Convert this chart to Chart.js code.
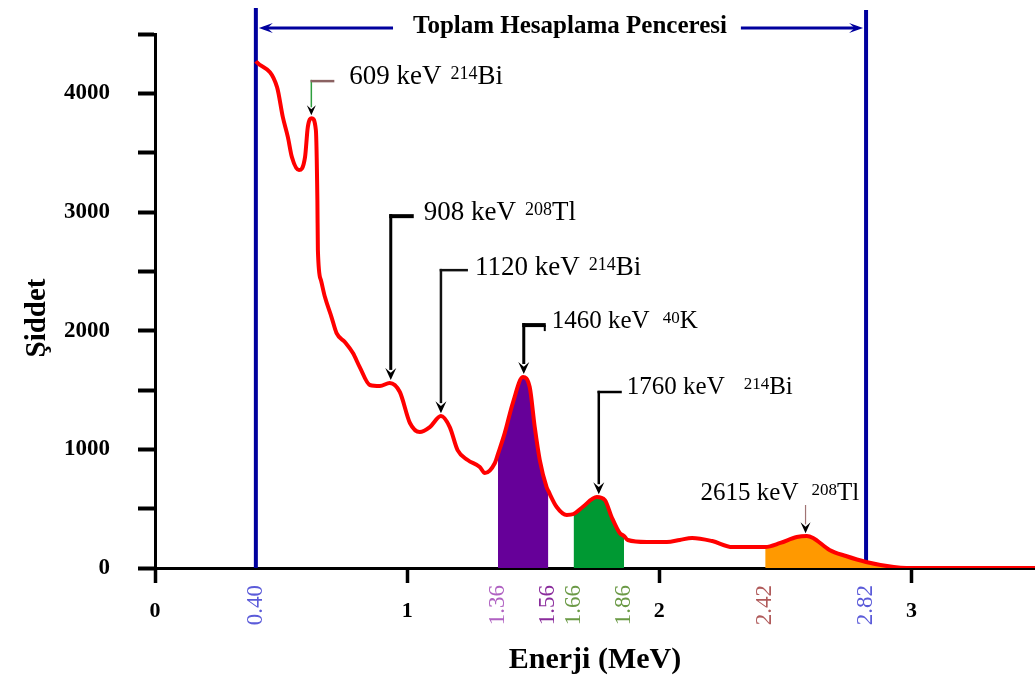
<!DOCTYPE html>
<html>
<head>
<meta charset="utf-8">
<script src="https://cdn.jsdelivr.net/npm/chart.js@4.4.1/dist/chart.umd.min.js"></script>
<style>
  html, body { margin: 0; padding: 0; background: #ffffff; }
  #wrap { width: 1035px; height: 681px; }
</style>
</head>
<body>
<div id="wrap"><canvas id="spectrum" width="1035" height="681"></canvas></div>
<script>
// Gamma spectrum: energy (MeV) and intensity (counts)
const energy = [0.40, 0.484, 0.507, 0.527, 0.543, 0.571, 0.595, 0.606, 0.622, 0.638,
  0.644, 0.646, 0.658, 0.674, 0.70, 0.72, 0.753, 0.785, 0.812, 0.852,
  0.892, 0.931, 0.971, 1.011, 1.05, 1.09, 1.134, 1.169, 1.20, 1.24,
  1.288, 1.308, 1.348, 1.36, 1.387, 1.419, 1.459, 1.486, 1.506, 1.526,
  1.553, 1.56, 1.593, 1.633, 1.66, 1.696, 1.752, 1.784, 1.811, 1.843,
  1.86, 1.875, 1.95, 2.03, 2.081, 2.13, 2.21, 2.29, 2.42, 2.48,
  2.545, 2.585, 2.61, 2.675, 2.74, 2.82, 2.93, 2.98, 3.49];
const counts = [4270, 4052, 3799, 3631, 3462, 3353, 3462, 3715, 3791, 3690,
  3100, 2679, 2426, 2283, 2115, 1980, 1904, 1811, 1693, 1542,
  1533, 1559, 1483, 1222, 1146, 1188, 1281, 1188, 994, 910,
  851, 800, 885, 960, 1137, 1390, 1609, 1525, 1188, 910,
  682, 649, 514, 447, 455, 514, 598, 573, 430, 295,
  270, 236, 219, 219, 236, 253, 227, 177, 177, 211,
  261, 270, 253, 152, 101, 51, 8, 0, 0];

// Axis ticks
const xTicks = [0, 1, 2, 3];
const yTicks = [0, 500, 1000, 1500, 2000, 2500, 3000, 3500, 4000, 4500];
const yTickText = ['0', '', '1000', '', '2000', '', '3000', '', '4000', ''];

// Window boundaries written under the axis, and the total window edges
const windowTicks = ['0.40', '1.36', '1.56', '1.66', '1.86', '2.42', '2.82'];
const totalWindow = [0.40, 2.82];

// Shaded energy bands under the spectrum
const bandLo = [1.36, 1.66, 2.42];
const bandHi = [1.56, 1.86, 2.98];

// Peak annotations
const peakMain = ['609 keV', '908 keV', '1120 keV', '1460 keV', '1760 keV', '2615 keV'];
const peakSup = ['214', '208', '214', '40', '214', '208'];
const peakElem = ['Bi', 'Tl', 'Bi', 'K', 'Bi', 'Tl'];
const peakX = [0.62, 0.935, 1.134, 1.4625, 1.76, 2.58];
const peakTip = [3815, 1585, 1305, 1635, 622, 292];
const peakElbow = [4103, 2965, 2510, 2047, 1483, 531];

const SERIF = '"Liberation Serif", "Times New Roman", serif';
const NAVY = '#00009e';
const bandColors = ['#660099', '#009933', '#ff9900'];
const windowTickColors = ['#5b5bd9', '#b062c2', '#8a2c9c', '#6b9a46', '#6b9a46', '#b05a5a', '#5b5bd9'];

// drawing style of each peak annotation (pixel offsets, fonts, strokes)
const annStyle = [
  { elbowLen: 23, dx: 15, dy: -6, size: 27, gap: 9, vColor: '#2e9e3e', vWidth: 1.5, hColor: '#8b6262', hWidth: 2.5, head: [9, 10] },
  { elbowLen: 23, dx: 10, dy: -5, size: 27, gap: 9, vColor: '#000', vWidth: 3, hColor: '#000', hWidth: 4, head: [11, 12] },
  { elbowLen: 27, dx: 7, dy: -4, size: 27, gap: 9, vColor: '#111', vWidth: 2.5, hColor: '#111', hWidth: 2.5, head: [11, 12] },
  { elbowLen: 22, dx: 6, dy: -5, size: 25, gap: 13, vColor: '#000', vWidth: 3, hColor: '#000', hWidth: 4, head: [11, 12], hook: 6 },
  { elbowLen: 23, dx: 5, dy: -6, size: 25, gap: 19, vColor: '#000', vWidth: 2.5, hColor: '#000', hWidth: 2.5, head: [11, 12] },
  { elbowLen: 0, dx: -105, dy: -13, size: 25, gap: 13, vColor: '#a07474', vWidth: 1.2, hColor: '#a07474', hWidth: 1, head: [10, 11] }
];

const spectrum = energy.map((e, i) => ({ x: e, y: counts[i] }));

const bandSets = bandLo.map((lo, k) => ({
  data: spectrum.filter(p => p.x >= lo && p.x <= bandHi[k]),
  fill: 'origin',
  backgroundColor: bandColors[k],
  borderWidth: 0,
  pointRadius: 0,
  cubicInterpolationMode: 'monotone',
  order: 2
}));

function drawRich(ctx, x, yMid, main, sup, elem, size, gap) {
  const base = yMid + size * 0.33;
  ctx.textAlign = 'left';
  ctx.textBaseline = 'alphabetic';
  ctx.fillStyle = '#000';
  ctx.font = `${size}px ${SERIF}`;
  ctx.fillText(main, x, base);
  let cx = x + ctx.measureText(main).width + gap;
  const ss = Math.round(size * 0.66);
  ctx.font = `${ss}px ${SERIF}`;
  ctx.fillText(sup, cx, base - size * 0.2);
  cx += ctx.measureText(sup).width;
  ctx.font = `${size}px ${SERIF}`;
  ctx.fillText(elem, cx, base);
}

function arrowHead(ctx, x, tipY, w, h, dir) {
  ctx.beginPath();
  if (dir === 'down') {
    ctx.moveTo(x, tipY);
    ctx.lineTo(x - w / 2, tipY - h);
    ctx.lineTo(x, tipY - h * 0.6);
    ctx.lineTo(x + w / 2, tipY - h);
  } else if (dir === 'left') {
    ctx.moveTo(x, tipY);
    ctx.lineTo(x + h, tipY - w / 2);
    ctx.lineTo(x + h * 0.6, tipY);
    ctx.lineTo(x + h, tipY + w / 2);
  } else {
    ctx.moveTo(x, tipY);
    ctx.lineTo(x - h, tipY - w / 2);
    ctx.lineTo(x - h * 0.6, tipY);
    ctx.lineTo(x - h, tipY + w / 2);
  }
  ctx.closePath();
  ctx.fill();
}

const decorations = {
  id: 'decorations',
  beforeDatasetsDraw(chart) {
    const { ctx, scales: { x, y } } = chart;
    ctx.save();
    // total window edges
    ctx.strokeStyle = NAVY;
    ctx.lineWidth = 4;
    totalWindow.forEach((v, i) => {
      const px = x.getPixelForValue(v);
      ctx.beginPath();
      ctx.moveTo(px, i === 0 ? 8 : 10);
      ctx.lineTo(px, y.getPixelForValue(0));
      ctx.stroke();
    });
    // window caption with arrows
    const l = x.getPixelForValue(totalWindow[0]);
    const r = x.getPixelForValue(totalWindow[1]);
    const cap = 'Toplam Hesaplama Penceresi';
    ctx.font = `bold 25px ${SERIF}`;
    const tw = ctx.measureText(cap).width;
    const cx = (l + r) / 2 + 9;
    const cy = 27;
    ctx.fillStyle = '#000';
    ctx.textAlign = 'center';
    ctx.textBaseline = 'middle';
    ctx.fillText(cap, cx, cy);
    ctx.strokeStyle = NAVY;
    ctx.fillStyle = NAVY;
    ctx.lineWidth = 3;
    ctx.beginPath();
    ctx.moveTo(l + 8, cy + 1);
    ctx.lineTo(cx - tw / 2 - 20, cy + 1);
    ctx.moveTo(cx + tw / 2 + 14, cy + 1);
    ctx.lineTo(r - 8, cy + 1);
    ctx.stroke();
    arrowHead(ctx, l + 3, cy + 1, 10, 14, 'left');
    arrowHead(ctx, r - 3, cy + 1, 10, 14, 'right');
    ctx.restore();
  },
  afterDatasetsDraw(chart) {
    const { ctx, scales: { x, y } } = chart;
    ctx.save();
    peakX.forEach((v, i) => {
      const s = annStyle[i];
      const px = x.getPixelForValue(v);
      const tip = y.getPixelForValue(peakTip[i]);
      const ey = y.getPixelForValue(peakElbow[i]);
      ctx.lineCap = 'butt';
      // vertical stem
      ctx.strokeStyle = s.vColor;
      ctx.lineWidth = s.vWidth;
      ctx.beginPath();
      ctx.moveTo(px, ey - (s.elbowLen ? s.hWidth / 2 : 0));
      ctx.lineTo(px, tip - s.head[1] + 2);
      ctx.stroke();
      // elbow
      if (s.elbowLen) {
        ctx.strokeStyle = s.hColor;
        ctx.lineWidth = s.hWidth;
        ctx.beginPath();
        ctx.moveTo(px - s.vWidth / 2, ey);
        ctx.lineTo(px + s.elbowLen, ey);
        ctx.stroke();
        if (s.hook) {
          ctx.lineWidth = 2;
          ctx.beginPath();
          ctx.moveTo(px + s.elbowLen - 1, ey);
          ctx.lineTo(px + s.elbowLen - 1, ey + s.hook);
          ctx.stroke();
        }
      }
      ctx.fillStyle = '#000';
      arrowHead(ctx, px, tip, s.head[0], s.head[1], 'down');
      drawRich(ctx, px + s.elbowLen + s.dx, ey + s.dy, peakMain[i], peakSup[i], peakElem[i], s.size, s.gap);
    });
    ctx.restore();
  },
  afterDraw(chart) {
    const { ctx, scales: { x } } = chart;
    ctx.save();
    // rotated window boundary values
    ctx.font = `23px ${SERIF}`;
    ctx.textAlign = 'right';
    ctx.textBaseline = 'middle';
    windowTicks.forEach((t, i) => {
      const px = x.getPixelForValue(parseFloat(t));
      ctx.save();
      ctx.translate(px, 585);
      ctx.rotate(-Math.PI / 2);
      ctx.fillStyle = windowTickColors[i];
      ctx.fillText(t, 0, 0);
      ctx.restore();
    });
    // vertical axis title
    ctx.save();
    ctx.translate(38, 318);
    ctx.rotate(-Math.PI / 2);
    ctx.font = `bold 29px ${SERIF}`;
    ctx.fillStyle = '#000';
    ctx.textAlign = 'center';
    ctx.textBaseline = 'middle';
    ctx.fillText('Şiddet', 0, 0);
    ctx.restore();
    ctx.restore();
  }
};

new Chart(document.getElementById('spectrum'), {
  type: 'line',
  data: {
    datasets: [
      {
        data: spectrum,
        borderColor: '#ff0000',
        borderWidth: 4,
        pointRadius: 0,
        fill: false,
        cubicInterpolationMode: 'monotone',
        order: 0
      },
      ...bandSets
    ]
  },
  options: {
    responsive: false,
    animation: false,
    events: [],
    layout: { padding: { top: 34, right: 0, left: 0, bottom: 0 } },
    plugins: { legend: { display: false }, tooltip: { enabled: false } },
    scales: {
      x: {
        type: 'linear',
        min: 0,
        max: 3.49,
        afterBuildTicks: s => { s.ticks = xTicks.map(v => ({ value: v })); },
        afterFit: s => { s.height = 113; s.paddingLeft = 0; s.paddingRight = 0; },
        ticks: {
          autoSkip: false,
          maxRotation: 0,
          padding: 15,
          color: '#000',
          font: { family: SERIF, size: 22, weight: 'bold' },
          callback: v => String(v)
        },
        grid: { display: true, drawOnChartArea: false, drawTicks: true, tickLength: 15, tickWidth: 3.5, tickColor: '#000' },
        border: { display: true, color: '#000', width: 3 },
        title: {
          display: true,
          text: 'Enerji (MeV)',
          color: '#000',
          font: { family: SERIF, size: 30, weight: 'bold' },
          padding: { top: 0, bottom: 3 }
        }
      },
      y: {
        min: 0,
        max: 4500,
        afterBuildTicks: s => { s.ticks = yTicks.map(v => ({ value: v })); },
        afterFit: s => { s.width = 155; s.paddingTop = 0; s.paddingBottom = 0; },
        ticks: {
          padding: 28,
          color: '#000',
          font: { family: SERIF, size: 23, weight: 'bold' },
          callback: (v, i) => yTickText[i]
        },
        grid: { display: true, drawOnChartArea: false, drawTicks: true, tickLength: 17, tickWidth: 4, tickColor: '#000' },
        border: { display: true, color: '#000', width: 3 }
      }
    }
  },
  plugins: [decorations]
});
</script>
</body>
</html>
